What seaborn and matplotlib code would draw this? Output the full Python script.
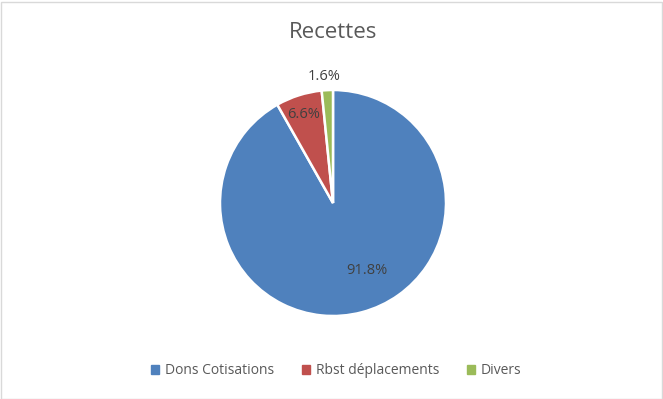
import matplotlib
matplotlib.use('Agg')
import matplotlib.pyplot as plt
import seaborn as sns
from matplotlib.patches import Rectangle

sns.set_theme(style='white')
plt.rcParams['font.family'] = ['Open Sans', 'DejaVu Sans']

# data
categories = ['Dons Cotisations', 'Rbst déplacements', 'Divers']
values = [91.8, 6.6, 1.6]
colors = ['#4F81BD', '#C0504D', '#9BBB59']

W, H = 663, 399
fig = plt.figure(figsize=(W / 100, H / 100), dpi=100)
fig.patch.set_facecolor('white')

# pie geometry in pixels
cx, cy, r = 333, 203, 113
ax = fig.add_axes([(cx - r) / W, (H - cy - r) / H, 2 * r / W, 2 * r / H])

wedges, texts, autotexts = ax.pie(
    values, colors=colors, startangle=90, counterclock=False,
    autopct='%1.1f%%', pctdistance=0.65,
    wedgeprops=dict(edgecolor='white', linewidth=1.8),
    textprops=dict(color='#404040', fontsize=10.5))
# label placement like Excel's best-fit
for t, pos in zip(autotexts, [(0.30, -0.60), (-0.26, 0.78), (-0.08, 1.12)]):
    t.set_position(pos)
ax.set_xlim(-1, 1)
ax.set_ylim(-1, 1)
ax.set_aspect('equal')

fig.text(cx / W, 1 - 33 / H, 'Recettes', ha='center', va='center',
         fontsize=16, color='#595959')

handles = [plt.Rectangle((0, 0), 1, 1, color=c) for c in colors]
fig.legend(handles, categories, loc='center', bbox_to_anchor=(336 / W, 1 - 371 / H),
           ncol=3, frameon=False, fontsize=10, labelcolor='#595959',
           handlelength=0.6, handleheight=0.6, handletextpad=0.4, columnspacing=2.0)

fig.patches.append(Rectangle((0.5 / W, 0.5 / H), 1 - 2 / W, 1 - 2 / H,
                             transform=fig.transFigure, fill=False,
                             edgecolor='#D9D9D9', linewidth=1))

fig.savefig('out.png', dpi=100)
